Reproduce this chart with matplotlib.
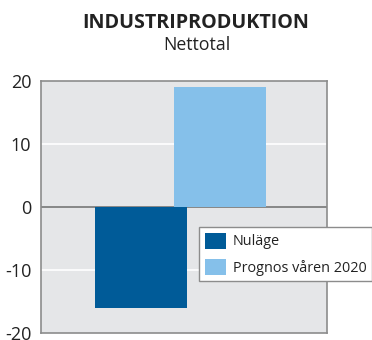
import matplotlib.pyplot as plt
from matplotlib.patches import Patch

plt.rcParams['font.family'] = ['Open Sans', 'DejaVu Sans']
plt.rcParams['axes.unicode_minus'] = False

series = ['Nuläge', 'Prognos våren 2020']
values = [-16, 19]
colors = ['#005b98', '#85c0ea']
offsets = [-0.15, 0.125]
yticks = [-20, -10, 0, 10, 20]

fig = plt.figure(figsize=(3.72, 3.40), dpi=100)
ax = fig.add_axes([41/372, 1-333/340, 286/372, (333-80.7)/340])
ax.set_facecolor('#e5e6e8')

for off, v, c in zip(offsets, values, colors):
    ax.bar(off, v, width=0.32, color=c, zorder=3)

ax.set_xlim(-0.5, 0.5)
ax.set_ylim(-20, 20)
ax.set_yticks(yticks)
ax.set_xticks([])
ax.tick_params(axis='y', length=0, labelsize=13, colors='#222222', pad=7)
for t in [-10, 10]:
    ax.axhline(t, color='white', lw=1.2, zorder=1)
ax.axhline(0, color='#7f7f7f', lw=1.3, zorder=2)
for s in ax.spines.values():
    s.set_color('#8c8c8c')
    s.set_linewidth(1.2)

fig.text(196/372, 1-28/340, 'INDUSTRIPRODUKTION', ha='center', va='baseline',
         fontsize=14.2, fontweight='bold', color='#222222')
fig.text(197/372, 1-50/340, 'Nettotal', ha='center', va='baseline',
         fontsize=12.8, color='#222222')

handles = [Patch(facecolor=c, edgecolor='none') for c in colors]
leg = fig.legend(handles, series, loc='upper left',
                 bbox_to_anchor=(199/372, 1-227/340), fontsize=10.4,
                 frameon=True, fancybox=False, framealpha=1,
                 edgecolor='#8c8c8c', handlelength=1.5, handleheight=1.3,
                 handletextpad=0.45, labelspacing=0.65, borderpad=0.4,
                 borderaxespad=0)
leg.get_frame().set_linewidth(1.0)
for t in leg.get_texts():
    t.set_color('#222222')

fig.savefig('out.png', dpi=100)
